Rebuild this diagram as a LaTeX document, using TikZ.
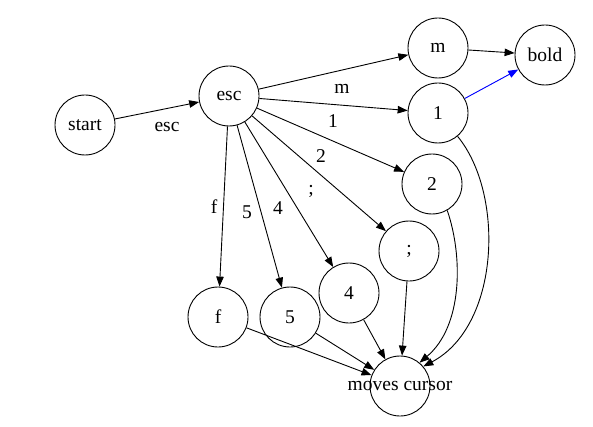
\documentclass[tikz,border=0pt]{standalone}
\usepackage{fontspec}
\setmainfont{Liberation Serif}
\usetikzlibrary{arrows.meta}
\begin{document}
\begin{tikzpicture}[x=1pt,y=1pt,
  state/.style={circle,draw,line width=0.9pt,minimum size=60pt,inner sep=0pt,font=\fontsize{19.5}{21}\selectfont},
  lbl/.style={font=\fontsize{19.5}{21}\selectfont,inner sep=0pt},
  edge/.style={line width=0.9pt,-{Triangle[length=10pt,width=7.5pt]}}]
\useasboundingbox (0,0) rectangle (593,426);
\node[state] (start) at (85,301) {start};
\node[state] (esc) at (229,330) {esc};
\node[state] (m) at (438,378) {m};
\node[state] (bold) at (545,371) {bold};
\node[state] (n1) at (438,313) {1};
\node[state] (n2) at (432,242) {2};
\node[state] (semi) at (409,175) {;};
\node[state] (n4) at (349,133) {4};
\node[state] (n5) at (290,109) {5};
\node[state] (f) at (218,109) {f};
\node[state] (mc) at (400,40) {};
\node[lbl] (mctext) at (mc) {moves cursor};
\node[lbl] (lesc) at (167,299) {esc};
\node[lbl] (lm) at (342,337) {m};
\node[lbl] (l1) at (333,305) {1};
\node[lbl] (l2) at (321,270) {2};
\node[lbl] (lsemi) at (311,235) {;};
\node[lbl] (l4) at (278,218) {4};
\node[lbl] (l5) at (247,214) {5};
\node[lbl] (lf) at (214,219) {f};
\draw[edge] (start) -- (esc);
\draw[edge] (esc) -- (m);
\draw[edge] (esc) -- (n1);
\draw[edge] (esc) -- (n2);
\draw[edge] (esc) -- (semi);
\draw[edge] (esc) -- (n4);
\draw[edge] (esc) -- (n5);
\draw[edge] (esc) -- (f);
\draw[edge] (m) -- (bold);
\draw[edge,draw=blue,fill=blue] (n1) -- (bold);
\draw[edge] (n1.-50) .. controls (505,232) and (500,100) .. (mc.40);
\draw[edge] (n2.-60) .. controls (463,170) and (463,100) .. (mc.50);
\draw[edge] (semi) -- (mc);
\draw[edge] (n4) -- (mc);
\draw[edge] (n5) -- (mc);
\draw[edge] (f) -- (mc);
\end{tikzpicture}
\end{document}
